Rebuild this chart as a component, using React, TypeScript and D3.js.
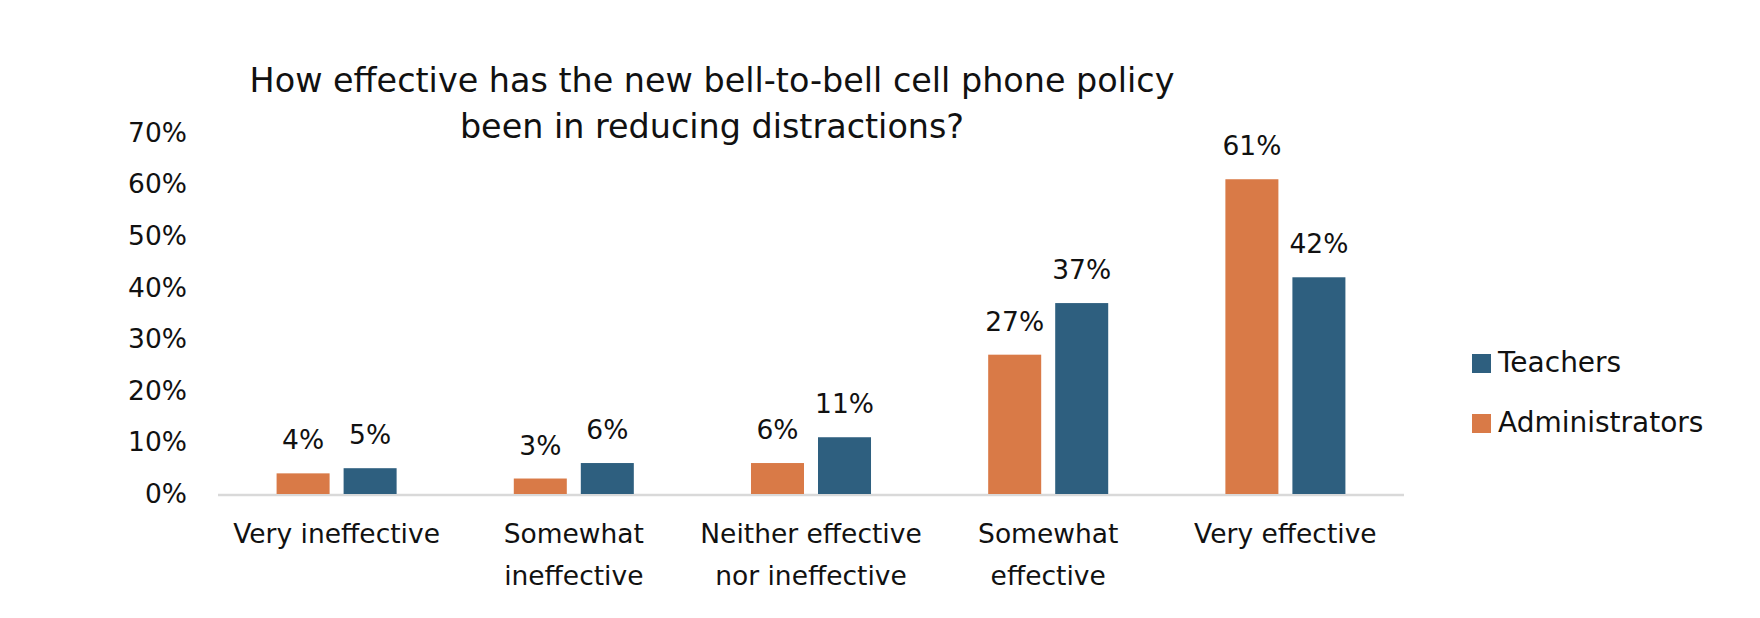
import React, { useEffect, useRef } from 'react'
import * as d3 from 'd3'

const categories = [
  ['Very ineffective'],
  ['Somewhat', 'ineffective'],
  ['Neither effective', 'nor ineffective'],
  ['Somewhat', 'effective'],
  ['Very effective'],
]
const series = ['Administrators', 'Teachers']
const administrators = [4, 3, 6, 27, 61]
const teachers = [5, 6, 11, 37, 42]
const yTicks = [0, 10, 20, 30, 40, 50, 60, 70]
const titleLines = [
  'How effective has the new bell-to-bell cell phone policy',
  'been in reducing distractions?',
]
const legendOrder = ['Teachers', 'Administrators']

const colors: Record<string, string> = {
  Administrators: '#D97A47',
  Teachers: '#2E5F7F',
}

const font = '"DejaVu Sans", sans-serif'

const App = () => {
  const svgRef = useRef<SVGSVGElement>(null)

  useEffect(() => {
    if (!svgRef.current) return
    const width = 1760
    const height = 618
    const left = 218
    const right = 1404
    const base = 494

    const svg = d3.select(svgRef.current)
    svg.selectAll('*').remove()

    const keys = categories.map((c) => c.join(' '))
    const x0 = d3.scaleBand<string>().domain(keys).range([left, right]).paddingInner(0.494).paddingOuter(0.247)
    const x1 = d3.scaleBand<string>().domain(series).range([0, x0.bandwidth()]).paddingInner(0.209)
    const y = d3.scaleLinear().domain([0, 70]).range([base, base - 7 * 51.6])

    // title
    svg
      .append('g')
      .selectAll('text')
      .data(titleLines)
      .join('text')
      .attr('x', 712)
      .attr('y', (d, i) => 92 + i * 46)
      .attr('text-anchor', 'middle')
      .attr('font-size', 33.4)
      .attr('fill', '#111')
      .text((d) => d)

    // y tick labels
    svg
      .append('g')
      .selectAll('text')
      .data(yTicks)
      .join('text')
      .attr('x', 187)
      .attr('y', (d) => y(d) + 9)
      .attr('text-anchor', 'end')
      .attr('font-size', 26.5)
      .attr('fill', '#111')
      .text((d) => `${d}%`)

    // baseline
    svg
      .append('line')
      .attr('x1', left)
      .attr('x2', right)
      .attr('y1', base + 1)
      .attr('y2', base + 1)
      .attr('stroke', '#D9D9D9')
      .attr('stroke-width', 2.5)

    const values: Record<string, number[]> = { Administrators: administrators, Teachers: teachers }

    series.forEach((s) => {
      const g = svg.append('g')
      g.selectAll('rect')
        .data(values[s])
        .join('rect')
        .attr('x', (d, i) => (x0(keys[i]) as number) + (x1(s) as number))
        .attr('y', (d) => y(d))
        .attr('width', x1.bandwidth())
        .attr('height', (d) => base - y(d))
        .attr('fill', colors[s])
      g.selectAll('text')
        .data(values[s])
        .join('text')
        .attr('x', (d, i) => (x0(keys[i]) as number) + (x1(s) as number) + x1.bandwidth() / 2)
        .attr('y', (d) => y(d) - 24)
        .attr('text-anchor', 'middle')
        .attr('font-size', 26.5)
        .attr('fill', '#111')
        .text((d) => `${d}%`)
    })

    // category labels
    categories.forEach((lines, i) => {
      svg
        .append('g')
        .selectAll('text')
        .data(lines)
        .join('text')
        .attr('x', (x0(keys[i]) as number) + x0.bandwidth() / 2)
        .attr('y', (d, j) => 543 + j * 42)
        .attr('text-anchor', 'middle')
        .attr('font-size', 26.5)
        .attr('fill', '#111')
        .text((d) => d)
    })

    // legend
    const legend = svg
      .append('g')
      .selectAll('g')
      .data(legendOrder)
      .join('g')
      .attr('transform', (d, i) => `translate(1472,${354 + i * 60})`)
    legend.append('rect').attr('width', 19).attr('height', 19).attr('fill', (d) => colors[d])
    legend
      .append('text')
      .attr('x', 26)
      .attr('y', 18)
      .attr('font-size', 28)
      .attr('fill', '#111')
      .text((d) => d)

    svg.attr('width', width).attr('height', height)
  }, [])

  return (
    <svg
      ref={svgRef}
      style={{ position: 'absolute', left: 0, top: 0, background: '#fff', fontFamily: font }}
    />
  )
}

export default App
